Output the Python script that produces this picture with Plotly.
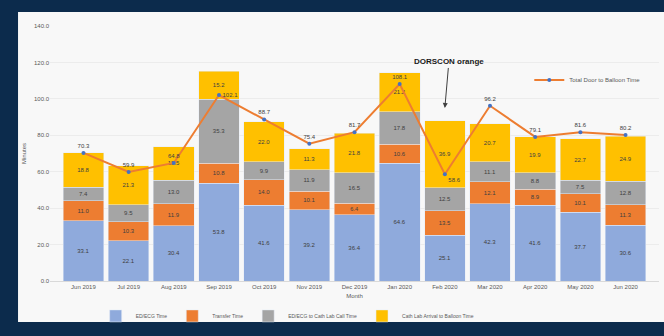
import plotly.graph_objects as go

categories = ["Jun 2019", "Jul 2019", "Aug 2019", "Sep 2019", "Oct 2019", "Nov 2019",
              "Dec 2019", "Jan 2020", "Feb 2020", "Mar 2020", "Apr 2020", "May 2020", "Jun 2020"]
ed_ecg = [33.1, 22.1, 30.4, 53.8, 41.6, 39.2, 36.4, 64.6, 25.1, 42.3, 41.6, 37.7, 30.6]
transfer = [11.0, 10.3, 11.9, 10.8, 14.0, 10.1, 6.4, 10.6, 13.5, 12.1, 8.9, 10.1, 11.3]
cath_call = [7.4, 9.5, 13.0, 35.3, 9.9, 11.9, 16.5, 17.8, 12.5, 11.1, 8.8, 7.5, 12.8]
arrival_balloon = [18.8, 21.3, 18.5, 15.2, 22.0, 11.3, 21.8, 21.2, 36.9, 20.7, 19.9, 22.7, 24.9]
total_d2b = [70.3, 59.9, 64.8, 102.1, 88.7, 75.4, 81.7, 108.1, 58.6, 96.2, 79.1, 81.6, 80.2]
y_ticks = [0, 20, 40, 60, 80, 100, 120, 140]

series = [
    ("ED/ECG Time", ed_ecg, "#8FAADC"),
    ("Transfer Time", transfer, "#ED7D31"),
    ("ED/ECG to Cath Lab Call Time", cath_call, "#A5A5A5"),
    ("Cath Lab Arrival to Balloon Time", arrival_balloon, "#FFC000"),
]

fig = go.Figure()
for name, vals, col in series:
    fig.add_trace(go.Bar(
        x=categories, y=vals, name=name, marker_color=col,
        text=[f"{v:.1f}" for v in vals], texttemplate="%{text}",
        textposition="inside", insidetextanchor="middle", textangle=0,
        textfont=dict(size=6, color="#404040"), legend="legend"))

pos = ["top center"] * len(total_d2b)
pos[3] = "middle right"
pos[8] = "bottom right"
fig.add_trace(go.Scatter(
    x=categories, y=total_d2b, name="Total Door to Balloon Time",
    mode="lines+markers+text", line=dict(color="#ED7D31", width=2),
    marker=dict(color="#4472C4", size=4),
    text=[f"{v:.1f}" for v in total_d2b], textposition=pos,
    textfont=dict(size=6, color="#404040"), legend="legend2"))

fig.add_annotation(x=categories[8], y=95, text="<b>DORSCON orange</b>",
                   showarrow=True, arrowhead=2, arrowsize=1, arrowwidth=1,
                   arrowcolor="#404040", ax=4, ay=-46, standoff=0,
                   font=dict(size=8, color="#1a1a1a", family="Liberation Sans"))

fig.add_shape(type="rect", xref="paper", yref="paper", x0=-0.0525, x1=1.01,
              y0=-0.161, y1=1.055, fillcolor="#f8f8f8", line_width=0, layer="below")

fig.update_layout(
    width=664, height=336, barmode="stack", bargap=0.1,
    margin=dict(l=50, r=5, t=26, b=55),
    paper_bgcolor="#0c2b4c", plot_bgcolor="rgba(0,0,0,0)",
    font=dict(family="Liberation Sans", size=6, color="#595959"),
    showlegend=True,
    legend=dict(orientation="h", x=0.075, y=-0.137, xanchor="left", yanchor="middle",
                font=dict(size=5, color="#595959"), bgcolor="rgba(0,0,0,0)",
                itemwidth=30, traceorder="normal"),
    legend2=dict(x=0.787, y=0.788, xanchor="left", yanchor="middle",
                 font=dict(size=6, color="#595959"), bgcolor="rgba(0,0,0,0)"),
    xaxis=dict(title=dict(text="Month", font=dict(size=6), standoff=4),
               tickfont=dict(size=6, color="#595959"), showgrid=False,
               linecolor="#d9d9d9", ticks=""),
    yaxis=dict(range=[0, 140], tickvals=y_ticks,
               ticktext=[f"{v:.1f}" for v in y_ticks],
               tickfont=dict(size=6, color="#595959"),
               gridcolor="#ececec", zeroline=False,
               title=dict(text="Minutes", font=dict(size=6), standoff=6)),
)

fig.write_html("out.html")
